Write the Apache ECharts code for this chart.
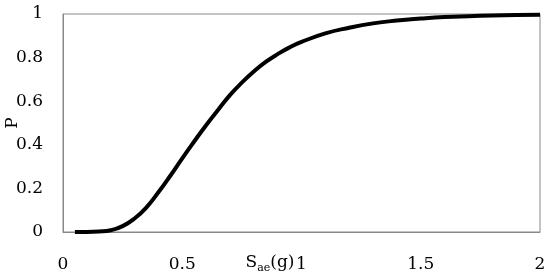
<!DOCTYPE html>
<html>
<head>
<meta charset="utf-8">
<script src="https://cdn.jsdelivr.net/npm/echarts@6/dist/echarts.min.js"></script>
<style>html,body{margin:0;padding:0;background:#fff}#c{width:550px;height:279px}</style>
</head>
<body>
<div id="c"></div>
<script>
var saeValues = [0.05, 0.10, 0.15, 0.20, 0.25, 0.30, 0.35, 0.40, 0.45, 0.50, 0.55, 0.60, 0.65, 0.70, 0.75, 0.80, 0.85, 0.90, 0.95, 1.00, 1.10, 1.20, 1.30, 1.40, 1.50, 1.60, 1.70, 1.80, 1.90, 2.00];
var pValues   = [0.000, 0.000, 0.002, 0.008, 0.027, 0.062, 0.113, 0.182, 0.258, 0.338, 0.415, 0.490, 0.560, 0.628, 0.685, 0.736, 0.780, 0.816, 0.847, 0.872, 0.911, 0.937, 0.957, 0.970, 0.979, 0.986, 0.990, 0.993, 0.995, 0.996];
var xTicks = [0, 0.5, 1, 1.5, 2];
var yTicks = [0, 0.2, 0.4, 0.6, 0.8, 1];

var font = 'DejaVu Serif';
var chart = echarts.init(document.getElementById('c'));
var points = saeValues.map(function (x, i) { return [x, pValues[i]]; });
chart.setOption({
  animation: false,
  grid: { left: 63, right: 10, top: 14, bottom: 47, containLabel: false, outerBoundsMode: 'none',
    show: true, borderColor: '#888', borderWidth: 1, backgroundColor: 'transparent' },
  xAxis: {
    type: 'value', min: xTicks[0], max: xTicks[xTicks.length - 1], interval: 0.5,
    axisLine: { show: true, lineStyle: { color: '#888', width: 1 } },
    axisTick: { show: false },
    splitLine: { show: false },
    axisLabel: { color: '#000', fontFamily: font, fontSize: 17, margin: 24,
      formatter: function (v) { return String(v); } },
    name: '{s|S}{sub|ae}{s|(g)}',
    nameLocation: 'middle',
    nameMoveOverlap: false,
    nameGap: 20,
    nameTextStyle: {
      padding: [0, 63, 0, 0],
      verticalAlign: 'top',
      rich: {
        s: { fontFamily: font, fontSize: 17, color: '#000', lineHeight: 22 },
        sub: { fontFamily: font, fontSize: 11, color: '#000', lineHeight: 11, verticalAlign: 'bottom' }
      }
    }
  },
  yAxis: {
    type: 'value', min: yTicks[0], max: yTicks[yTicks.length - 1], interval: 0.2,
    axisLine: { show: true, lineStyle: { color: '#888', width: 1 } },
    axisTick: { show: false },
    splitLine: { show: false },
    axisLabel: { color: '#000', fontFamily: font, fontSize: 17, margin: 20,
      formatter: function (v) { return String(Math.round(v * 10) / 10); } },
    name: 'P',
    nameLocation: 'middle',
    nameMoveOverlap: false,
    nameRotate: 90,
    nameGap: 42,
    nameTextStyle: { color: '#000', fontFamily: font, fontSize: 17 }
  },
  series: [{
    type: 'line',
    data: points,
    smooth: true,
    showSymbol: false,
    lineStyle: { color: '#000', width: 4 },
    z: 3
  }]
});
</script>
</body>
</html>
